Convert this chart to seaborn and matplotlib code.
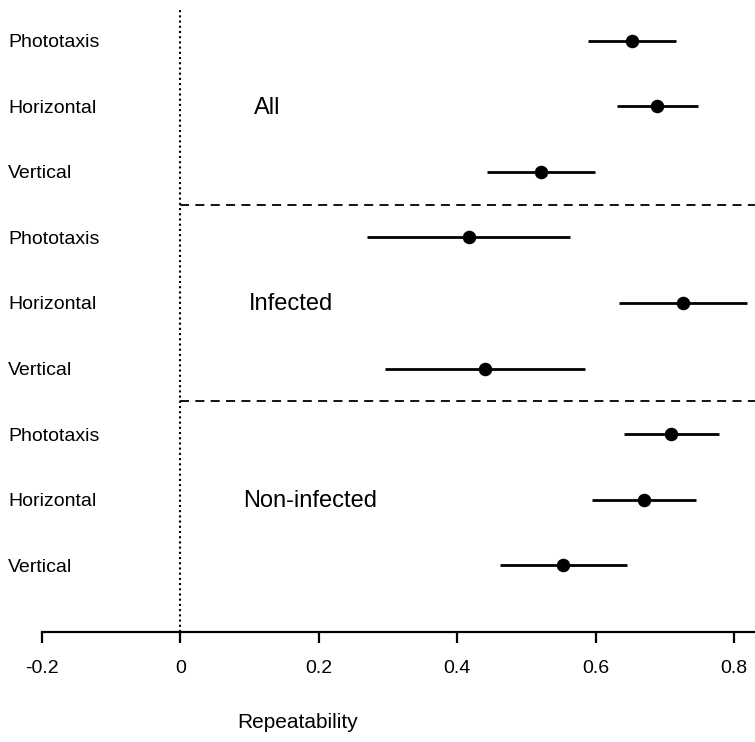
import matplotlib
matplotlib.use("Agg")
import matplotlib.pyplot as plt
import seaborn as sns
import pandas as pd
import numpy as np

# ---- data ----
groups = ["All", "All", "All", "Infected", "Infected", "Infected",
          "Non-infected", "Non-infected", "Non-infected"]
tests = ["Phototaxis", "Horizontal", "Vertical"] * 3
estimate = [0.652, 0.689, 0.521, 0.417, 0.726, 0.440, 0.709, 0.670, 0.553]
ci_low = [0.589, 0.630, 0.443, 0.270, 0.634, 0.296, 0.641, 0.595, 0.462]
ci_high = [0.716, 0.748, 0.599, 0.563, 0.818, 0.584, 0.778, 0.745, 0.645]
group_names = ["All", "Infected", "Non-infected"]
xticks = [-0.2, 0, 0.2, 0.4, 0.6, 0.8]
xtick_labels = ["-0.2", "0", "0.2", "0.4", "0.6", "0.8"]

sns.set_theme(style="white")
plt.rcParams["font.family"] = ["Liberation Sans", "DejaVu Sans"]
plt.rcParams["text.color"] = "black"
plt.rcParams["xtick.color"] = "black"
plt.rcParams["axes.labelcolor"] = "black"

df = pd.DataFrame({"group": groups, "test": tests, "est": estimate,
                   "lo": ci_low, "hi": ci_high})
df["ypos"] = np.arange(len(df))[::-1] + 1  # 9 at top, 1 at bottom

W, H = 755, 742
fig = plt.figure(figsize=(W / 100, H / 100), dpi=100)
ax = fig.add_axes([42 / W, (H - 632) / H, (W - 42) / W, (632 - 8) / H])

ax.hlines(df["ypos"], df["lo"], df["hi"], color="black", lw=2.0, zorder=2)
sns.scatterplot(data=df, x="est", y="ypos", ax=ax, color="black", s=95,
                edgecolor="black", linewidth=0, zorder=3, legend=False)

ax.set_xlim(-0.2, 0.830)
ax.set_ylim(-0.02, 9.5)

# reference lines
ax.axvline(0, color="black", lw=1.5, ls=(0, (1, 1.5)), zorder=1)
for yv in [3.5, 6.5]:
    ax.hlines(yv, 0, 0.830, color="black", lw=1.3, ls=(0, (5, 3.5)), zorder=1)

# row labels
for _, r in df.iterrows():
    ax.text(-0.249, r["ypos"] - 0.03, r["test"], ha="left", va="center",
            fontsize=14, color="black", clip_on=False)

# group labels
group_x = [0.126, 0.160, 0.188]
group_y = [8, 5, 2]
for g, gx, gy in zip(group_names, group_x, group_y):
    ax.text(gx, gy - 0.02, g, ha="center", va="center", fontsize=17,
            color="black")

# axes styling
for s in ["top", "right", "left"]:
    ax.spines[s].set_visible(False)
ax.spines["bottom"].set_linewidth(1.6)
ax.spines["bottom"].set_color("black")
ax.set_yticks([])
ax.set_xticks(xticks)
ax.set_xticklabels(xtick_labels, fontsize=14, color="black")
ax.tick_params(axis="x", direction="out", length=8, width=1.6, pad=12,
               colors="black", bottom=True)
ax.set_xlabel("")
ax.set_ylabel("")
fig.text(298 / W, (H - 722) / H, "Repeatability", ha="center", va="center",
         fontsize=15, color="black")

fig.savefig("out.png", dpi=100)
